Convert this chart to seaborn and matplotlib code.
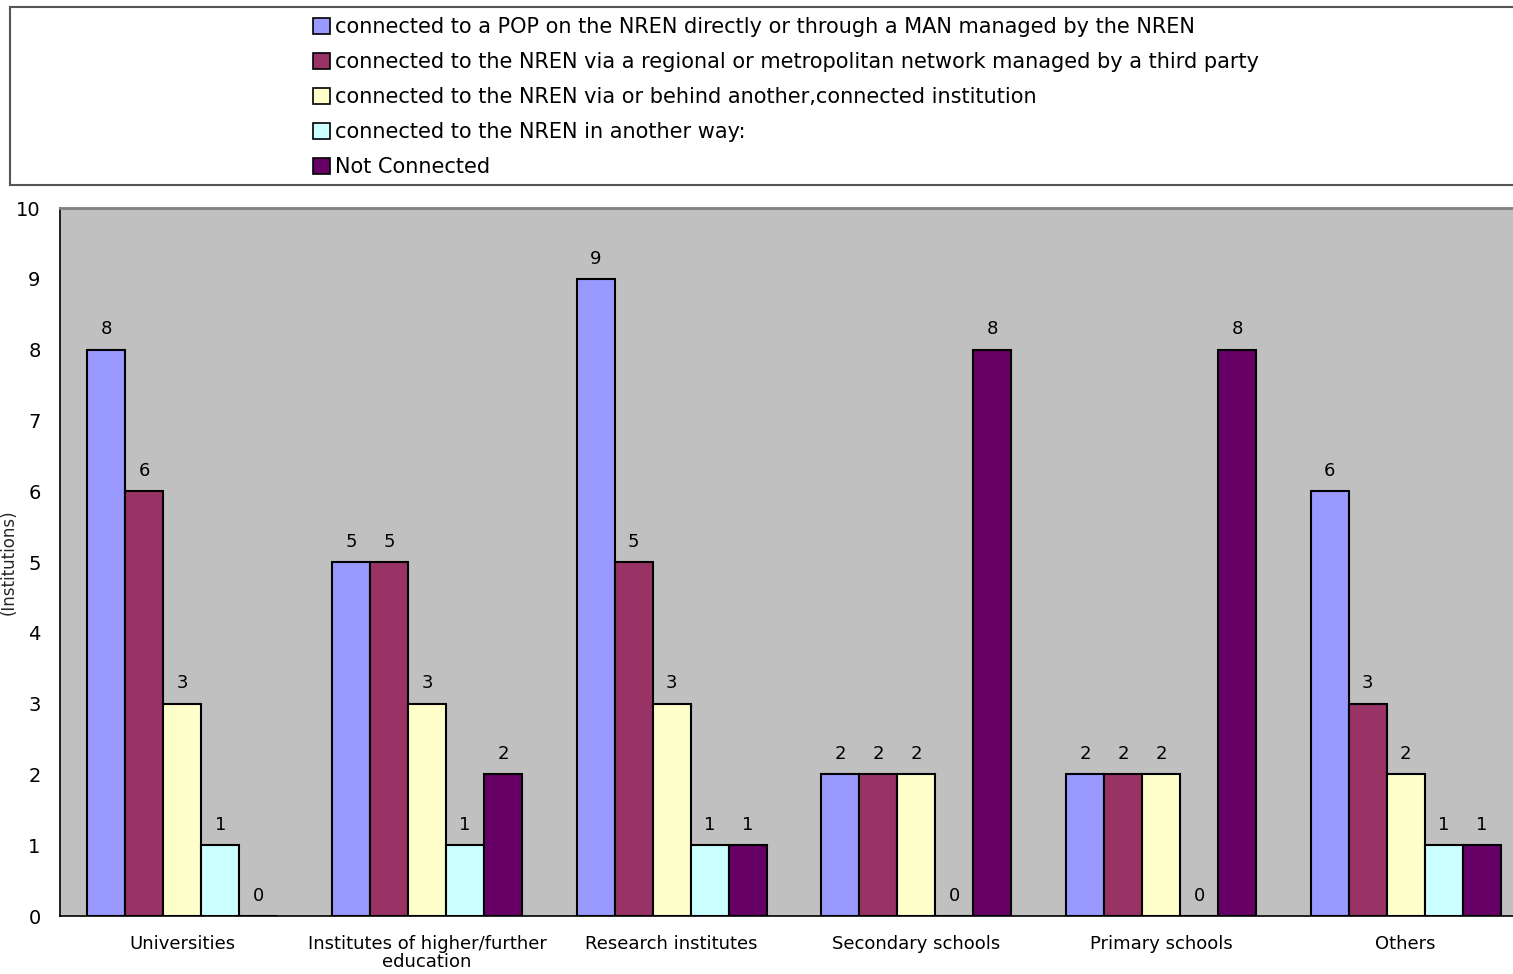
import pandas as pd
import matplotlib.pyplot as plt
import seaborn as sns
from matplotlib.patches import Rectangle, Patch

# categories and series
categories = ["Universities", "Institutes of higher/further\neducation", "Research institutes",
              "Secondary schools", "Primary schools", "Others"]
series = ["connected to a POP on the NREN directly or through a MAN managed by the NREN",
          "connected to the NREN via a regional or metropolitan network managed by a third party",
          "connected to the NREN via or behind another,connected institution",
          "connected to the NREN in another way:",
          "Not Connected"]
pop_direct = [8, 5, 9, 2, 2, 6]
regional = [6, 5, 5, 2, 2, 3]
behind_inst = [3, 3, 3, 2, 2, 2]
other_way = [1, 1, 1, 0, 0, 1]
not_connected = [0, 2, 1, 8, 8, 1]
colors = ["#9999FF", "#993366", "#FFFFCC", "#CCFFFF", "#660066"]

values = [pop_direct, regional, behind_inst, other_way, not_connected]
rows = []
for s, vals in zip(series, values):
    for c, v in zip(categories, vals):
        rows.append({"category": c, "series": s, "value": v})
df = pd.DataFrame(rows)

sns.set_style("white")
plt.rcParams['font.family'] = ['DejaVu Sans']
plt.rcParams['text.color'] = 'black'
plt.rcParams['xtick.color'] = 'black'
plt.rcParams['ytick.color'] = 'black'

fig = plt.figure(figsize=(15.13, 9.74), dpi=100)
ax = fig.add_axes([60/1513, 58/974, 1468/1513, 708/974])
ax.set_facecolor("#C0C0C0")

sns.barplot(data=df, x="category", y="value", hue="series", palette=colors,
            hue_order=series, order=categories, width=0.777, gap=0, saturation=1,
            edgecolor="black", linewidth=1.5, ax=ax, legend=False)

for cont in ax.containers:
    ax.bar_label(cont, padding=8, fontsize=13)

ax.set_ylim(0, 10)
ax.set_xlim(-0.5, 5.5)
ax.set_yticks(range(0, 11))
ax.tick_params(axis="y", direction="in", length=5, labelsize=14, pad=14)
ax.set_xticks(range(len(categories)))
ax.set_xticklabels(categories, fontsize=13, linespacing=1.0)
ax.tick_params(axis="x", which="major", length=0, pad=14)
ax.set_xticks([i + 0.5 for i in range(5)], minor=True)
ax.tick_params(axis="x", which="minor", direction="in", length=5)
ax.set_xlabel("")
ax.set_ylabel("(Institutions)", fontsize=12)
ax.yaxis.set_label_coords(-0.029, 0.5)

for side in ["left", "bottom"]:
    ax.spines[side].set_color("black")
    ax.spines[side].set_linewidth(1.2)
ax.spines["top"].set_color("#808080")
ax.spines["top"].set_linewidth(2)
ax.spines["right"].set_visible(False)

# legend box across the top
fig.patches.append(Rectangle((10/1513, 1 - 185/974), 1.0, 178/974, transform=fig.transFigure,
                             facecolor="white", edgecolor="#555555", linewidth=1.5))
handles = [Patch(facecolor=c, edgecolor="black", linewidth=1.2) for c in colors]
fig.legend(handles, series, loc="upper left", bbox_to_anchor=(305/1513, 1 - 9/974),
           frameon=False, fontsize=15, handlelength=0.8, handleheight=0.8,
           handletextpad=0.25, labelspacing=0.72, borderaxespad=0)

plt.savefig("out.png", dpi=100)
